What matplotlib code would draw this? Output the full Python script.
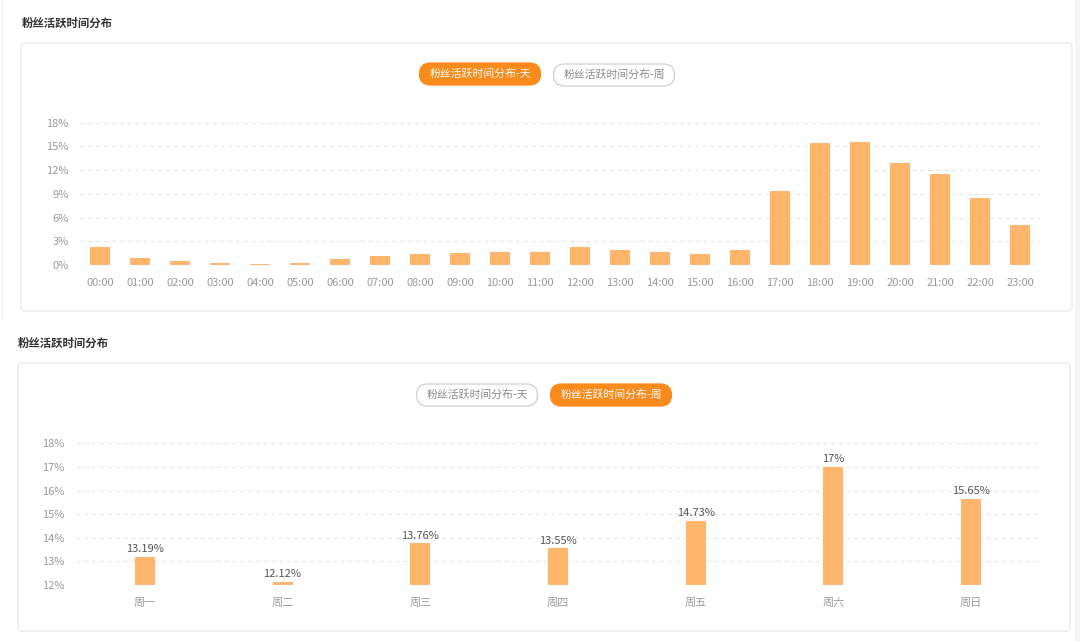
import numpy as np
import matplotlib
matplotlib.use("Agg")
import matplotlib.pyplot as plt
from matplotlib.patches import FancyBboxPatch, Rectangle

plt.rcParams['font.family'] = ['Noto Sans CJK SC', 'DejaVu Sans']

# data
hours = ["%02d:00" % h for h in range(24)]
hour_vals = [2.3, 0.9, 0.45, 0.2, 0.1, 0.25, 0.7, 1.15, 1.35, 1.47, 1.65, 1.7,
             2.24, 1.9, 1.7, 1.44, 1.85, 9.4, 15.37, 15.6, 12.9, 11.5, 8.5, 5.0]
days = ["周一", "周二", "周三", "周四", "周五", "周六", "周日"]
day_vals = [13.19, 12.12, 13.76, 13.55, 14.73, 17, 15.65]
day_labels = ["13.19%", "12.12%", "13.76%", "13.55%", "14.73%", "17%", "15.65%"]
title = "粉丝活跃时间分布"
btn_day = "粉丝活跃时间分布-天"
btn_week = "粉丝活跃时间分布-周"

BAR = "#ffb66c"
ORANGE = "#f98a1c"
GRID = "#e6e6e6"
TICK = "#9a9a9a"

W, H = 1080, 641
fig = plt.figure(figsize=(W / 100, H / 100), dpi=100)
fig.patch.set_facecolor("white")

# background layer in pixel coords
bg = fig.add_axes([0, 0, 1, 1])
bg.set_xlim(0, W)
bg.set_ylim(H, 0)
bg.axis("off")
bg.add_patch(Rectangle((1075, 0), 5, H, color="#f4f4f4", lw=0))
bg.plot([1.5, 1.5], [0, 318], color="#ececec", lw=1)


def card(x0, y0, x1, y1):
    bg.add_patch(FancyBboxPatch((x0, y0), x1 - x0, y1 - y0,
                                boxstyle="round,pad=0,rounding_size=4",
                                fc="white", ec="#e8e8e8", lw=0.9))


def pill(cx, cy, text, active):
    w, h = 121, 22
    bg.add_patch(FancyBboxPatch((cx - w / 2, cy - h / 2), w, h,
                                boxstyle="round,pad=0,rounding_size=11",
                                fc=ORANGE if active else "white",
                                ec=ORANGE if active else "#cfcfcf", lw=0.9))
    bg.text(cx, cy, text, ha="center", va="center", fontsize=7.8,
            color="white" if active else "#8a8a8a")


bg.text(22, 23, title, ha="left", va="center", fontsize=8.2, fontweight="bold", color="#333333")
card(21, 43, 1072, 311)
pill(480, 74, btn_day, True)
pill(614, 75, btn_week, False)

bg.text(18, 343, title, ha="left", va="center", fontsize=8.2, fontweight="bold", color="#333333")
card(18, 363, 1070, 631)
pill(477, 395, btn_day, False)
pill(611, 395, btn_week, True)


def style(ax):
    ax.set_facecolor("none")
    for s in ax.spines.values():
        s.set_visible(False)
    ax.yaxis.grid(True, color=GRID, ls=(0, (4, 3)), lw=0.8)
    ax.set_axisbelow(True)
    ax.tick_params(length=0, colors=TICK, labelsize=8)
    ax.tick_params(axis="x", pad=9)
    ax.tick_params(axis="y", pad=8)


# top chart: by hour
ax1 = fig.add_axes([80 / W, (H - 265) / H, 960 / W, 142.4 / H])
x = np.arange(len(hours))
ax1.bar(x, hour_vals, width=0.5, color=BAR, zorder=3)
ax1.set_xlim(-0.5, len(hours) - 0.5)
ax1.set_ylim(0, 18)
ax1.set_yticks(range(0, 19, 3))
ax1.set_yticklabels(["%d%%" % v for v in range(0, 19, 3)])
ax1.set_xticks(x)
ax1.set_xticklabels(hours)
style(ax1)
ax1.axhline(0, color="#eeeeee", lw=0.8, zorder=2)

# bottom chart: by weekday
ax2 = fig.add_axes([76 / W, (H - 585) / H, 964 / W, 141.7 / H])
x2 = np.arange(len(days))
ax2.bar(x2, [v - 12 for v in day_vals], bottom=12, width=0.145, color=BAR, zorder=3)
for xi, v, lab in zip(x2, day_vals, day_labels):
    ax2.text(xi, v + 0.12, lab, ha="center", va="bottom", fontsize=8, color="#555555")
ax2.set_xlim(-0.5, len(days) - 0.5)
ax2.set_ylim(12, 18)
ax2.set_yticks(range(12, 19))
ax2.set_yticklabels(["%d%%" % v for v in range(12, 19)])
ax2.set_xticks(x2)
ax2.set_xticklabels(days)
style(ax2)

fig.savefig("out.png", dpi=100)
